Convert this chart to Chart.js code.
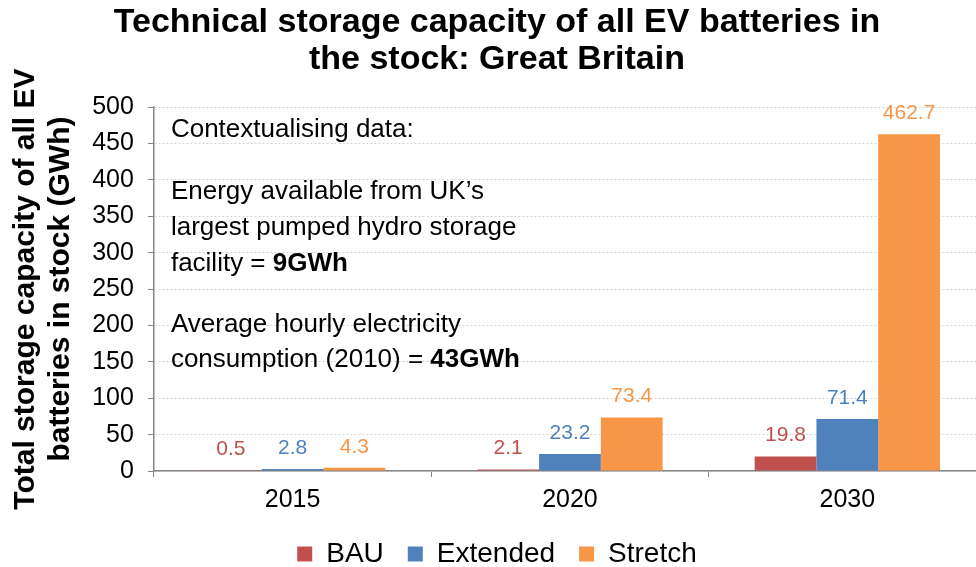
<!DOCTYPE html>
<html>
<head>
<meta charset="utf-8">
<script src="https://cdn.jsdelivr.net/npm/chart.js@4"></script>
<style>
  html, body { margin: 0; padding: 0; background: #fff; overflow: hidden; }
  #clip { width: 976px; height: 567px; overflow: hidden; }
  #wrap { width: 986px; height: 567px; }
</style>
</head>
<body>
<div id="clip"><div id="wrap"><canvas id="chart"></canvas></div></div>
<script>
const years = ['2015', '2020', '2030'];
const bau = [0.5, 2.1, 19.8];
const extended = [2.8, 23.2, 71.4];
const stretch = [4.3, 73.4, 462.7];
const seriesNames = ['BAU', 'Extended', 'Stretch'];
const seriesColors = ['#C0504D', '#4F81BD', '#F79646'];

const FONT = "'Liberation Sans', Arial, sans-serif";

// value labels above each bar, coloured like the bar
const valueLabels = {
  id: 'valueLabels',
  afterDatasetsDraw(chart){
    const ctx = chart.ctx;
    ctx.save();
    ctx.font = `21px ${FONT}`;
    ctx.textAlign = 'center';
    ctx.textBaseline = 'middle';
    chart.data.datasets.forEach((ds, i) => {
      const meta = chart.getDatasetMeta(i);
      meta.data.forEach((bar, j) => {
        ctx.fillStyle = ds.backgroundColor;
        ctx.fillText(ds.data[j].toFixed(1), bar.x, bar.y - 21);
      });
    });
    ctx.restore();
  }
};

// the "contextualising data" note in the empty part of the plot
const noteLines = [
  [{t: 'Contextualising data:'}],
  [{t: 'Energy available from UK\u2019s'}],
  [{t: 'largest pumped hydro storage'}],
  [{t: 'facility = '}, {t: '9GWh', b: true}],
  [{t: 'Average hourly electricity'}],
  [{t: 'consumption (2010) = '}, {t: '43GWh', b: true}]
];
const noteOffsets = [23, 85, 121, 157, 218, 253];
const contextNote = {
  id: 'contextNote',
  afterDraw(chart){
    const ctx = chart.ctx;
    const area = chart.chartArea;
    ctx.save();
    ctx.fillStyle = '#000';
    ctx.textBaseline = 'middle';
    ctx.textAlign = 'left';
    noteLines.forEach((line, k) => {
      let x = area.left + 17;
      const y = area.top + noteOffsets[k];
      for(const part of line){
        ctx.font = `${part.b ? 'bold ' : ''}26px ${FONT}`;
        ctx.fillText(part.t, x, y);
        x += ctx.measureText(part.t).width;
      }
    });
    ctx.restore();
  }
};

new Chart(document.getElementById('chart'), {
  type: 'bar',
  data: {
    labels: years,
    datasets: [bau, extended, stretch].map((d, i) => ({
      label: seriesNames[i],
      data: d,
      backgroundColor: seriesColors[i],
      borderWidth: 0,
      categoryPercentage: 0.668,
      barPercentage: 1.0
    }))
  },
  options: {
    responsive: true,
    maintainAspectRatio: false,
    animation: false,
    layout: { padding: { left: 8, right: 0, top: 0, bottom: 0 } },
    plugins: {
      title: {
        display: true,
        text: ['Technical storage capacity of all EV batteries in', 'the stock: Great Britain'],
        color: '#000',
        font: { family: FONT, size: 34, weight: 'bold', lineHeight: 1.09 },
        padding: { top: 4, bottom: 29 }
      },
      legend: {
        position: 'bottom',
        maxHeight: 51,
        labels: {
          color: '#000',
          font: { family: FONT, size: 28 },
          boxWidth: 15,
          boxHeight: 15,
          padding: 24,
          useBorderRadius: false
        }
      },
      tooltip: { enabled: false }
    },
    scales: {
      x: {
        afterFit(scale){ scale.height -= 7; },
        grid: {
          display: true,
          offset: true,
          drawOnChartArea: false,
          drawTicks: true,
          tickLength: 6,
          tickColor: '#868686'
        },
        border: { display: true, color: '#868686', width: 1.5 },
        ticks: {
          color: '#000',
          font: { family: FONT, size: 25 },
          padding: 8
        }
      },
      y: {
        min: 0,
        max: 500,
        ticks: {
          stepSize: 50,
          color: '#000',
          font: { family: FONT, size: 25 },
          padding: 14
        },
        grid: {
          color: '#d4d4d4',
          tickLength: 6,
          tickColor: '#868686',
          tickBorderDash: []
        },
        border: { display: true, color: '#868686', width: 1.5, dash: [2, 2] },
        title: {
          display: true,
          text: ['Total storage capacity of all EV', 'batteries in stock (GWh)'],
          color: '#000',
          font: { family: FONT, size: 30, weight: 'bold', lineHeight: 1.17 },
          padding: { top: 0, bottom: 0 }
        }
      }
    }
  },
  plugins: [valueLabels, contextNote]
});
</script>
</body>
</html>
